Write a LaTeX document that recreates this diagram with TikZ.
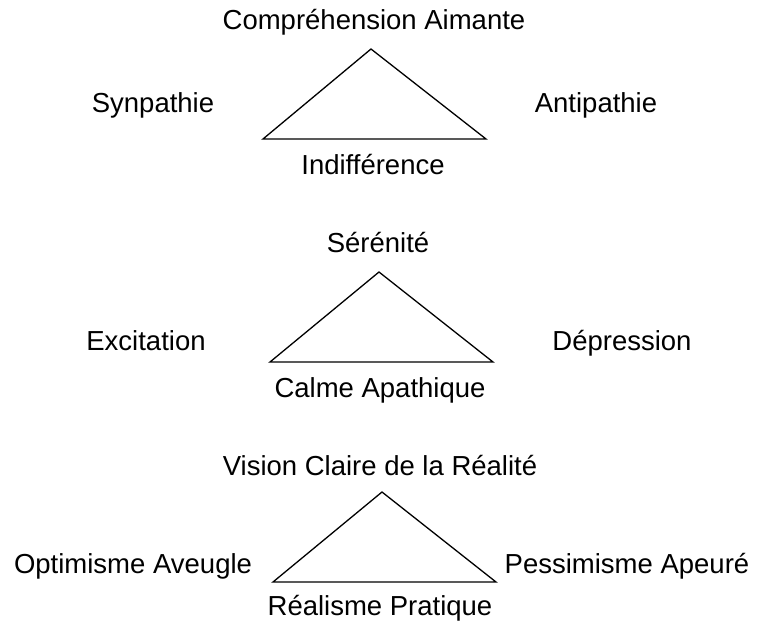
\documentclass[tikz,border=0pt]{standalone}
\usepackage{fontspec}
\setmainfont{Liberation Sans}
\usetikzlibrary{positioning}
\tikzset{
  lbl/.style={font=\fontsize{27.5}{32}\selectfont,inner sep=1pt},
  tri/.style={draw=black,line width=1.3pt,line join=miter},
}
\begin{document}
\begin{tikzpicture}[x=1pt,y=-1pt]
  \useasboundingbox (0,0) rectangle (772,624);
  % first triangle
  \coordinate (t1) at (371,49);
  \coordinate (l1) at (263,139);
  \coordinate (r1) at (486,139);
  \draw[tri] (t1) -- (l1) -- (r1) -- cycle;
  \node[lbl] (top1) at (374,22) {Compréhension Aimante};
  \node[lbl] (left1) at (153,105) {Synpathie};
  \node[lbl] (right1) at (596,105) {Antipathie};
  \node[lbl] (bot1) at (373,165) {Indifférence};
  % second triangle
  \coordinate (t2) at (379,272);
  \coordinate (l2) at (270,362);
  \coordinate (r2) at (493,362);
  \draw[tri] (t2) -- (l2) -- (r2) -- cycle;
  \node[lbl] (top2) at (378,243) {Sérénité};
  \node[lbl] (left2) at (146,341) {Excitation};
  \node[lbl] (right2) at (622,343) {Dépression};
  \node[lbl] (bot2) at (380,390) {Calme Apathique};
  % third triangle
  \coordinate (t3) at (382,492);
  \coordinate (l3) at (273,582);
  \coordinate (r3) at (496,582);
  \draw[tri] (t3) -- (l3) -- (r3) -- cycle;
  \node[lbl] (top3) at (380,466) {Vision Claire de la Réalité};
  \node[lbl] (left3) at (133,566) {Optimisme Aveugle};
  \node[lbl] (right3) at (627,566) {Pessimisme Apeuré};
  \node[lbl] (bot3) at (380,608) {Réalisme Pratique};
\end{tikzpicture}
\end{document}
